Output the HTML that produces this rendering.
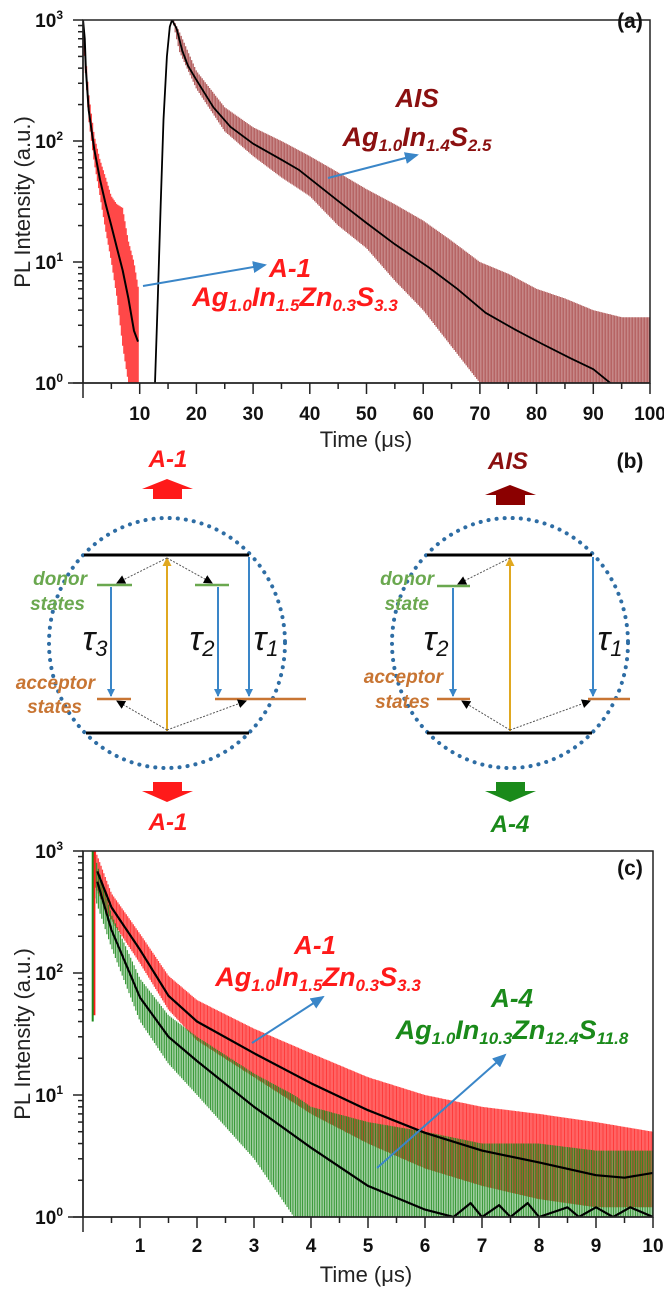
<!DOCTYPE html>
<html><head><meta charset="utf-8"><style>
html,body{margin:0;padding:0;background:#fff}
svg{display:block}
text{font-family:"Liberation Sans",sans-serif}
.tk{font-weight:bold;font-size:19px;fill:#111}
.lab{font-size:22px;fill:#222}
.ann{font-weight:bold;font-style:italic}
</style></head><body>
<svg id="fig" width="664" height="1291" viewBox="0 0 664 1291" xmlns="http://www.w3.org/2000/svg">
<defs>
<clipPath id="clipA"><rect x="83" y="20" width="567" height="363"/></clipPath>
<clipPath id="clipC"><rect x="83" y="851" width="570" height="366"/></clipPath>
<marker id="arB" markerWidth="8" markerHeight="8" refX="7" refY="4" orient="auto" markerUnits="userSpaceOnUse"><path d="M0,0 L8,4 L0,8z" fill="#3a86c8"/></marker>
<marker id="arBig" markerWidth="14" markerHeight="12" refX="12" refY="6" orient="auto" markerUnits="userSpaceOnUse"><path d="M0,0 L14,6 L0,12z" fill="#3a86c8"/></marker>
<marker id="arK" markerWidth="9" markerHeight="9" refX="8" refY="4.5" orient="auto" markerUnits="userSpaceOnUse"><path d="M0,0 L9,4.5 L0,9z" fill="#000"/></marker>
<marker id="arY" markerWidth="9" markerHeight="9" refX="8" refY="4.5" orient="auto" markerUnits="userSpaceOnUse"><path d="M0,0 L9,4.5 L0,9z" fill="#e0a820"/></marker>
</defs>

<!-- Panel (a) -->
<g id="panelA">
  <g id="dataA" clip-path="url(#clipA)"></g>
  <rect x="83" y="20" width="567" height="363" fill="none" stroke="#222" stroke-width="1.5"/>
  <g id="axesA"></g>
  <text class="lab" transform="translate(30,202) rotate(-90)" text-anchor="middle">PL Intensity (a.u.)</text>
  <text class="lab" x="366" y="447" text-anchor="middle">Time (μs)</text>
  <text x="630" y="28" text-anchor="middle" font-weight="bold" font-size="21" fill="#111">(a)</text>
  <text class="ann" x="417" y="107" text-anchor="middle" font-size="26" fill="#8b1010">AIS</text>
  <text class="ann" x="417" y="146" text-anchor="middle" font-size="27" fill="#8b1010">Ag<tspan font-size="17" dy="5">1.0</tspan><tspan dy="-5">In</tspan><tspan font-size="17" dy="5">1.4</tspan><tspan dy="-5">S</tspan><tspan font-size="17" dy="5">2.5</tspan></text>
  <line x1="328" y1="178" x2="417" y2="155" stroke="#3a86c8" stroke-width="2" marker-end="url(#arBig)"/>
  <text class="ann" x="290" y="277" text-anchor="middle" font-size="26" fill="#ff1a1a">A-1</text>
  <text class="ann" x="295" y="306" text-anchor="middle" font-size="27" fill="#ff1a1a">Ag<tspan font-size="17" dy="5">1.0</tspan><tspan dy="-5">In</tspan><tspan font-size="17" dy="5">1.5</tspan><tspan dy="-5">Zn</tspan><tspan font-size="17" dy="5">0.3</tspan><tspan dy="-5">S</tspan><tspan font-size="17" dy="5">3.3</tspan></text>
  <line x1="143" y1="286" x2="265" y2="265" stroke="#3a86c8" stroke-width="2" marker-end="url(#arBig)"/>
</g>

<!-- Panel (b) schematic -->
<g id="panelB">
  <text x="630" y="468" text-anchor="middle" font-weight="bold" font-size="21" fill="#111">(b)</text>
  <g>
    <text class="ann" x="168" y="467" text-anchor="middle" font-size="24" fill="#ff1a1a">A-1</text>
    <path d="M153,499 L153,489 L142,489 L167,479 L193,489 L182,489 L182,499 Z" fill="#ff1a1a"/>
    <ellipse cx="167" cy="643" rx="118" ry="125" fill="none" stroke="#2e6da4" stroke-width="4" stroke-dasharray="0.1 8" stroke-linecap="round"/>
    <line x1="84" y1="555" x2="249" y2="555" stroke="#000" stroke-width="3"/>
    <line x1="86" y1="733" x2="249" y2="733" stroke="#000" stroke-width="3"/>
    <line x1="97" y1="585" x2="132" y2="585" stroke="#6aa84f" stroke-width="2.5"/>
    <line x1="195" y1="585" x2="229" y2="585" stroke="#6aa84f" stroke-width="2.5"/>
    <line x1="97" y1="699" x2="131" y2="699" stroke="#c87533" stroke-width="2.5"/>
    <line x1="215" y1="699" x2="306" y2="699" stroke="#c87533" stroke-width="2.5"/>
    <line x1="167" y1="731" x2="167" y2="558" stroke="#e0a820" stroke-width="2" marker-end="url(#arY)"/>
    <line x1="167" y1="558" x2="117" y2="583" stroke="#555" stroke-width="1" stroke-dasharray="2 1.5" marker-end="url(#arK)"/>
    <line x1="167" y1="558" x2="212" y2="583" stroke="#555" stroke-width="1" stroke-dasharray="2 1.5" marker-end="url(#arK)"/>
    <line x1="167" y1="730" x2="117" y2="701" stroke="#555" stroke-width="1" stroke-dasharray="2 1.5" marker-end="url(#arK)"/>
    <line x1="167" y1="730" x2="246" y2="701" stroke="#555" stroke-width="1" stroke-dasharray="2 1.5" marker-end="url(#arK)"/>
    <line x1="111" y1="587" x2="111" y2="696" stroke="#3a86c8" stroke-width="2" marker-end="url(#arB)"/>
    <line x1="218" y1="587" x2="218" y2="696" stroke="#3a86c8" stroke-width="2" marker-end="url(#arB)"/>
    <line x1="249" y1="557" x2="249" y2="696" stroke="#3a86c8" stroke-width="2" marker-end="url(#arB)"/>
    <text x="95" y="650" text-anchor="middle" font-family="Liberation Serif,serif" font-style="italic" font-size="34" fill="#111">τ<tspan font-size="22" dy="6">3</tspan></text>
    <text x="202" y="650" text-anchor="middle" font-family="Liberation Serif,serif" font-style="italic" font-size="34" fill="#111">τ<tspan font-size="22" dy="6">2</tspan></text>
    <text x="266" y="650" text-anchor="middle" font-family="Liberation Serif,serif" font-style="italic" font-size="34" fill="#111">τ<tspan font-size="22" dy="6">1</tspan></text>
    <text class="ann" x="87" y="585" text-anchor="end" font-size="19" fill="#6aa84f">donor</text>
    <text class="ann" x="85" y="610" text-anchor="end" font-size="19" fill="#6aa84f">states</text>
    <text class="ann" x="95" y="689" text-anchor="end" font-size="19" fill="#c87533">acceptor</text>
    <text class="ann" x="82" y="713" text-anchor="end" font-size="19" fill="#c87533">states</text>
    <path d="M153,782 L182,782 L182,791 L193,791 L167,802 L142,791 L153,791 Z" fill="#ff1a1a"/>
    <text class="ann" x="168" y="830" text-anchor="middle" font-size="24" fill="#ff1a1a">A-1</text>
  </g>
  <g>
    <text class="ann" x="508" y="469" text-anchor="middle" font-size="24" fill="#8b1010">AIS</text>
    <path d="M496,505 L496,495 L485,495 L510,485 L536,495 L525,495 L525,505 Z" fill="#8b0000"/>
    <ellipse cx="510" cy="643" rx="118" ry="125" fill="none" stroke="#2e6da4" stroke-width="4" stroke-dasharray="0.1 8" stroke-linecap="round"/>
    <line x1="427" y1="555" x2="592" y2="555" stroke="#000" stroke-width="3"/>
    <line x1="427" y1="733" x2="592" y2="733" stroke="#000" stroke-width="3"/>
    <line x1="437" y1="586" x2="470" y2="586" stroke="#6aa84f" stroke-width="2.5"/>
    <line x1="437" y1="699" x2="470" y2="699" stroke="#c87533" stroke-width="2.5"/>
    <line x1="588" y1="699" x2="630" y2="699" stroke="#c87533" stroke-width="2.5"/>
    <line x1="510" y1="731" x2="510" y2="558" stroke="#e0a820" stroke-width="2" marker-end="url(#arY)"/>
    <line x1="510" y1="558" x2="458" y2="584" stroke="#555" stroke-width="1" stroke-dasharray="2 1.5" marker-end="url(#arK)"/>
    <line x1="510" y1="730" x2="462" y2="701" stroke="#555" stroke-width="1" stroke-dasharray="2 1.5" marker-end="url(#arK)"/>
    <line x1="510" y1="730" x2="590" y2="701" stroke="#555" stroke-width="1" stroke-dasharray="2 1.5" marker-end="url(#arK)"/>
    <line x1="453" y1="588" x2="453" y2="696" stroke="#3a86c8" stroke-width="2" marker-end="url(#arB)"/>
    <line x1="593" y1="557" x2="593" y2="696" stroke="#3a86c8" stroke-width="2" marker-end="url(#arB)"/>
    <text x="436" y="650" text-anchor="middle" font-family="Liberation Serif,serif" font-style="italic" font-size="34" fill="#111">τ<tspan font-size="22" dy="6">2</tspan></text>
    <text x="610" y="650" text-anchor="middle" font-family="Liberation Serif,serif" font-style="italic" font-size="34" fill="#111">τ<tspan font-size="22" dy="6">1</tspan></text>
    <text class="ann" x="434" y="585" text-anchor="end" font-size="19" fill="#6aa84f">donor</text>
    <text class="ann" x="429" y="610" text-anchor="end" font-size="19" fill="#6aa84f">state</text>
    <text class="ann" x="443" y="683" text-anchor="end" font-size="19" fill="#c87533">acceptor</text>
    <text class="ann" x="430" y="708" text-anchor="end" font-size="19" fill="#c87533">states</text>
    <path d="M496,782 L525,782 L525,791 L536,791 L510,802 L485,791 L496,791 Z" fill="#1a8a1a"/>
    <text class="ann" x="510" y="832" text-anchor="middle" font-size="24" fill="#1a8a1a">A-4</text>
  </g>
</g>

<!-- Panel (c) -->
<g id="panelC">
  <g id="dataC" clip-path="url(#clipC)"></g>
  <rect x="83" y="851" width="570" height="366" fill="none" stroke="#222" stroke-width="1.5"/>
  <g id="axesC"></g>
  <text class="lab" transform="translate(30,1034) rotate(-90)" text-anchor="middle">PL Intensity (a.u.)</text>
  <text class="lab" x="366" y="1282" text-anchor="middle">Time (μs)</text>
  <text x="630" y="875" text-anchor="middle" font-weight="bold" font-size="21" fill="#111">(c)</text>
  <text class="ann" x="315" y="954" text-anchor="middle" font-size="26" fill="#ff1a1a">A-1</text>
  <text class="ann" x="318" y="986" text-anchor="middle" font-size="27" fill="#ff1a1a">Ag<tspan font-size="17" dy="5">1.0</tspan><tspan dy="-5">In</tspan><tspan font-size="17" dy="5">1.5</tspan><tspan dy="-5">Zn</tspan><tspan font-size="17" dy="5">0.3</tspan><tspan dy="-5">S</tspan><tspan font-size="17" dy="5">3.3</tspan></text>
  <line x1="252" y1="1043" x2="323" y2="997" stroke="#3a86c8" stroke-width="2" marker-end="url(#arBig)"/>
  <text class="ann" x="512" y="1007" text-anchor="middle" font-size="26" fill="#1a8a1a">A-4</text>
  <text class="ann" x="512" y="1039" text-anchor="middle" font-size="27" fill="#1a8a1a">Ag<tspan font-size="17" dy="5">1.0</tspan><tspan dy="-5">In</tspan><tspan font-size="17" dy="5">10.3</tspan><tspan dy="-5">Zn</tspan><tspan font-size="17" dy="5">12.4</tspan><tspan dy="-5">S</tspan><tspan font-size="17" dy="5">11.8</tspan></text>
  <line x1="377" y1="1168" x2="505" y2="1055" stroke="#3a86c8" stroke-width="2" marker-end="url(#arBig)"/>
</g>
</svg>
<script>
// ---- Panel (a) data ----
const aisFitT = [12.7,13.2,13.7,14.2,14.8,15.3,15.7,16.5,17.5,18.5,20,23,26,30,35,38,45,50,55,61,66,71,76,81,86,90,93];
const aisFitV = [1,5,30,150,500,880,1000,850,560,420,320,190,131,95,70,58,32,21,14,9,6,3.8,2.8,2.1,1.6,1.3,1];
const aisDataT = [16,17,20,25,30,35,40,45,50,55,60,65,70,75,80,85,90,95,100];
const aisDataHi = [1000,800,380,190,130,100,75,55,40,30,22,15,10,8,6,5,4,3.5,3.5];
const aisDataLo = [900,550,270,120,75,50,35,20,13,7,4,2,1,1,1,1,1,1,1];
const a1aFitT = [0,0.3,0.5,1,2,3,4,5,6,7,8,9,9.7];
const a1aFitV = [1000,700,400,180,85,48,30,20,13,8.5,5,2.7,2.2];
const a1aDataT = [0,1,2,3,4,5,6,7,8,9,9.8];
const a1aDataHi = [1000,250,110,70,50,35,30,28,15,10,6];
const a1aDataLo = [700,150,65,35,18,10,5,2,1,1,1];
const aXTicks = [10,20,30,40,50,60,70,80,90,100];
const yDecades = [0,1,2,3];
// ---- Panel (c) data ----
const a1cFitT = [0.25,0.5,1,1.5,2,3,4,5,6,7,8,9,9.5,10];
const a1cFitV = [680,345,155,65,40,22,12.5,7.5,4.9,3.5,2.8,2.2,2.1,2.3];
const a4cFitT = [0.25,0.5,1,1.5,2,3,4,5,6,6.5,6.8,7,7.3,7.5,7.8,8,8.5,8.7,9,9.3,9.6,10];
const a4cFitV = [560,225,63,30,19,8,3.7,1.8,1.15,1,1.3,1,1.25,1,1.3,1,1.2,1,1.2,1,1.2,1];
const a1cDataT = [0.22,0.5,1,1.5,2,3,4,5,6,7,8,9,10];
const a1cDataHi = [1000,450,210,95,60,35,22,14,10,8,7,6,5];
const a1cDataLo = [500,270,120,50,28,14,7,4,2.5,1.8,1.4,1.2,1.2];
const a4cDataT = [0.18,0.5,1,1.5,2,3,3.7,4,5,6,7,8,9,10];
const a4cDataHi = [1000,300,90,45,30,15,10,8,6,5,4,4,3.5,3.5];
const a4cDataLo = [450,160,40,18,10,3,1,1,1,1,1,1,1,1];
const cXTicks = [1,2,3,4,5,6,7,8,9,10];
const spikeRedT = [0.2], spikeRedV = [45,1000];
const spikeGreenT = [0.17], spikeGreenV = [40,1000];

const NS = "http://www.w3.org/2000/svg";
function xa(t){return 83 + t*5.67;}
function ya(v){return 383 - 121*Math.log10(v);}
function xc(t){return 83 + t*57;}
function yc(v){return 1217 - 122*Math.log10(v);}
function mk(tag, attrs, parent){const e=document.createElementNS(NS,tag);for(const k in attrs)e.setAttribute(k,attrs[k]);parent.appendChild(e);return e;}
function logInterp(T,V,t){
  if(t<=T[0])return V[0]; if(t>=T[T.length-1])return V[V.length-1];
  for(let i=0;i<T.length-1;i++){if(t>=T[i]&&t<=T[i+1]){const f=(t-T[i])/(T[i+1]-T[i]);return Math.pow(10,Math.log10(V[i])*(1-f)+Math.log10(V[i+1])*f);}}
}
function drawLine(g,T,V,xf,yf,color,w,name){
  const pts=T.map((t,i)=>xf(t).toFixed(1)+","+yf(V[i]).toFixed(1)).join(" ");
  const p=mk("polyline",{points:pts,fill:"none",stroke:color,"stroke-width":w,"stroke-linejoin":"round"},g);
  
  
}
function drawNoise(g,T,Hi,Lo,xf,yf,color,op,name,stepPx){
  const grp=mk("g",{stroke:color,"stroke-width":1.2,opacity:op},g);
  
  
  const x0=xf(T[0]), x1=xf(T[T.length-1]);
  let d="";
  for(let x=x0;x<=x1;x+=stepPx){
    const t=T[0]+(x-x0)/(x1-x0)*(T[T.length-1]-T[0]);
    const hi=logInterp(T,Hi,t), lo=logInterp(T,Lo,t);
    d+="M"+x.toFixed(1)+","+yf(hi).toFixed(1)+"V"+yf(Math.max(lo,0.5)).toFixed(1);
  }
  mk("path",{d:d,fill:"none"},grp);
}
function drawAxes(g,xf,yf,ticks,minorStep,maxT,yBottom,yTop,labelY,name){
  const ax=mk("g",{stroke:"#222","stroke-width":1.5},g);
  
  
  mk("line",{x1:68,y1:yBottom,x2:xf(maxT),y2:yBottom},ax);
  mk("line",{x1:83,y1:yTop,x2:83,y2:yBottom+15},ax);
  for(let t=minorStep;t<=maxT+1e-6;t+=minorStep){
    const major=ticks.some(v=>Math.abs(v-t)<1e-6);
    mk("line",{x1:xf(t),y1:yBottom,x2:xf(t),y2:yBottom+(major?11:6)},ax);
  }
  ticks.forEach(t=>{
    const tx=mk("text",{x:xf(t),y:labelY,"text-anchor":"middle",class:"tk"},g);
    tx.textContent=String(t);
    
    
  });
  yDecades.forEach(d=>{
    const yy=yf(Math.pow(10,d));
    mk("line",{x1:73,y1:yy,x2:83,y2:yy},ax);
    if(d<3){for(let m=2;m<10;m++){const ym=yf(m*Math.pow(10,d));mk("line",{x1:78,y1:ym,x2:83,y2:ym},ax);}}
    const tx=mk("text",{x:63,y:yy+7,"text-anchor":"end",class:"tk"},g);
    tx.innerHTML='10<tspan font-size="12" dy="-8">'+d+'</tspan>';
    
    
  });
}
const gA=document.getElementById("dataA");
drawNoise(gA,a1aDataT,a1aDataHi,a1aDataLo,xa,ya,"#ff1a1a",0.8,"a1-data-a",1.2);
drawNoise(gA,aisDataT,aisDataHi,aisDataLo,xa,ya,"#8b0a0a",0.7,"ais-data-a",1.5);
drawLine(gA,a1aFitT,a1aFitV,xa,ya,"#000",2,"a1-fit-a");
drawLine(gA,aisFitT,aisFitV,xa,ya,"#000",1.8,"ais-fit-a");
drawAxes(document.getElementById("axesA"),xa,ya,aXTicks,5,100,383,20,420,"axes-a");

const gC=document.getElementById("dataC");
drawNoise(gC,a1cDataT,a1cDataHi,a1cDataLo,xc,yc,"#ff1a1a",0.85,"a1-data-c",1.4);
drawNoise(gC,a4cDataT,a4cDataHi,a4cDataLo,xc,yc,"#1a8a1a",0.85,"a4-data-c",1.7);
drawLine(gC,[spikeRedT[0],spikeRedT[0]],spikeRedV,xc,yc,"#ff1a1a",2,"a1-spike-c");
drawLine(gC,[spikeGreenT[0],spikeGreenT[0]],spikeGreenV,xc,yc,"#1a8a1a",2,"a4-spike-c");
drawLine(gC,a1cFitT,a1cFitV,xc,yc,"#000",2.2,"a1-fit-c");
drawLine(gC,a4cFitT,a4cFitV,xc,yc,"#000",2.2,"a4-fit-c");
drawAxes(document.getElementById("axesC"),xc,yc,cXTicks,0.5,10,1217,851,1252,"axes-c");
</script>
</body></html>
